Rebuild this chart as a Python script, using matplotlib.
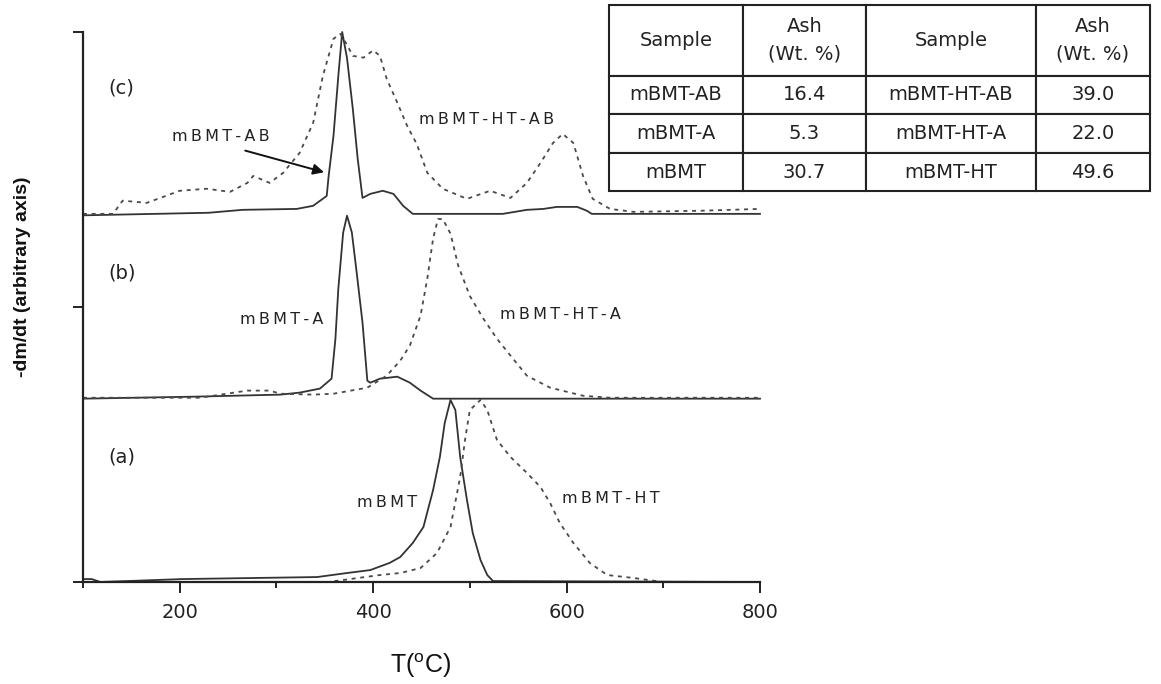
import matplotlib.pyplot as plt
import numpy as np

# --- data (T in deg C, relative height per trace) ---
# (c) acid + base treated
t_c_ab = [100, 230, 265, 321, 338, 352, 354, 359, 364, 368, 373, 379, 384, 389, 397, 410,
          421, 431, 441, 534, 559, 576, 590, 611, 621, 626, 800]
h_c_ab = [0, 0.014, 0.03, 0.035, 0.052, 0.106, 0.215, 0.434, 0.76, 1.0, 0.857, 0.58, 0.31,
          0.095, 0.117, 0.134, 0.117, 0.052, 0.008, 0.008, 0.03, 0.035, 0.046, 0.046, 0.025,
          0.008, 0.008]
t_c_htab = [100, 131, 141, 166, 200, 228, 252, 270, 276, 293, 307, 324, 338, 348, 359, 366,
            373, 379, 390, 400, 407, 414, 425, 435, 445, 456, 472, 497, 521, 542, 559, 573,
            586, 596, 607, 617, 627, 645, 669, 738, 800]
h_c_htab = [0.008, 0.008, 0.08, 0.068, 0.134, 0.145, 0.128, 0.177, 0.215, 0.177, 0.232, 0.341,
            0.505, 0.76, 0.963, 0.99, 0.93, 0.87, 0.86, 0.9, 0.87, 0.745, 0.614, 0.49, 0.39,
            0.232, 0.145, 0.09, 0.134, 0.095, 0.177, 0.286, 0.395, 0.444, 0.395, 0.215, 0.09,
            0.035, 0.019, 0.025, 0.035]

# (b) acid treated
t_b_a = [100, 216, 304, 324, 345, 357, 361, 364, 369, 373, 378, 383, 389, 394, 397, 407, 425,
         438, 449, 462, 800]
h_b_a = [0, 0.011, 0.022, 0.033, 0.055, 0.109, 0.327, 0.6, 0.906, 0.998, 0.906, 0.687, 0.415,
         0.098, 0.087, 0.109, 0.12, 0.087, 0.044, 0, 0]
t_b_hta = [100, 221, 270, 293, 304, 338, 359, 394, 414, 428, 438, 449, 456, 462, 467, 472, 480,
           488, 500, 514, 528, 542, 559, 583, 617, 645, 800]
h_b_hta = [0.005, 0.005, 0.044, 0.044, 0.027, 0.022, 0.027, 0.06, 0.125, 0.207, 0.29, 0.453,
           0.655, 0.873, 0.98, 0.98, 0.9, 0.725, 0.56, 0.436, 0.327, 0.235, 0.125, 0.06, 0.016,
           0.005, 0.005]

# (a) untreated
t_a = [100, 109, 118, 203, 342, 373, 397, 417, 428, 441, 452, 462, 469, 474, 480, 485, 490,
       497, 503, 511, 518, 524, 800]
h_a = [0.016, 0.016, 0, 0.016, 0.027, 0.049, 0.065, 0.104, 0.136, 0.213, 0.3, 0.502, 0.682,
       0.867, 0.993, 0.938, 0.682, 0.447, 0.267, 0.12, 0.038, 0.005, 0]
t_a_ht = [360, 369, 407, 428, 449, 466, 480, 490, 495, 500, 511, 518, 528, 542, 559, 573, 583,
          593, 607, 624, 642, 669, 700]
h_a_ht = [0.005, 0.011, 0.038, 0.049, 0.076, 0.158, 0.3, 0.573, 0.775, 0.938, 0.993, 0.938,
          0.775, 0.682, 0.595, 0.518, 0.431, 0.322, 0.213, 0.104, 0.038, 0.022, 0]

offsets = [0, 1, 2]  # (a), (b), (c) stacked

# ash table
table_header = ["Sample", "Ash\n(Wt. %)", "Sample", "Ash\n(Wt. %)"]
samples_left = ["mBMT-AB", "mBMT-A", "mBMT"]
ash_left = ["16.4", "5.3", "30.7"]
samples_right = ["mBMT-HT-AB", "mBMT-HT-A", "mBMT-HT"]
ash_right = ["39.0", "22.0", "49.6"]

solid_col = "#333333"
dash_col = "#4a4a4a"
dash_style = (0, (2.2, 2.6))


def spaced(s):
    return "\u2009".join(s)


fig = plt.figure(figsize=(11.61, 6.84), dpi=100)
ax = fig.add_axes([83 / 1161, 1 - 582 / 684, 677 / 1161, 550 / 684])

ax.plot(t_a, np.array(h_a) + offsets[0], color=solid_col, lw=1.3, clip_on=False)
ax.plot(t_a_ht, np.array(h_a_ht) + offsets[0], color=dash_col, lw=1.3, ls=dash_style, clip_on=False)
ax.plot(t_b_a, np.array(h_b_a) + offsets[1], color=solid_col, lw=1.3, clip_on=False)
ax.plot(t_b_hta, np.array(h_b_hta) + offsets[1], color=dash_col, lw=1.3, ls=dash_style, clip_on=False)
ax.plot(t_c_ab, np.array(h_c_ab) + offsets[2], color=solid_col, lw=1.3, clip_on=False)
ax.plot(t_c_htab, np.array(h_c_htab) + offsets[2], color=dash_col, lw=1.3, ls=dash_style, clip_on=False)

ax.set_xlim(100, 800)
ax.set_ylim(0, 3)
ax.spines["top"].set_visible(False)
ax.spines["right"].set_visible(False)
for s in ["left", "bottom"]:
    ax.spines[s].set_linewidth(1.6)
    ax.spines[s].set_color("#222222")

ax.set_xticks([200, 400, 600, 800])
ax.set_xticks([100, 300, 500, 700], minor=True)
ax.set_yticks([0, 1.5, 3])
ax.set_yticklabels([])
ax.tick_params(axis="x", which="major", length=8, width=1.4, color="#222222", pad=7,
               labelsize=14, labelcolor="#222222")
ax.tick_params(axis="x", which="minor", length=4.5, width=1.4, color="#222222")
ax.tick_params(axis="y", which="major", length=7.5, width=1.4, color="#222222")
for lab in ax.get_xticklabels():
    lab.set_family("DejaVu Sans")

# panel letters
for txt, y in [("(c)", 2.695), ("(b)", 1.686), ("(a)", 0.682)]:
    ax.text(140, y, txt, fontsize=14, family="DejaVu Sans", color="#222222",
            ha="center", va="center")

lab_kw = dict(fontsize=11.5, family="DejaVu Sans", color="#222222", ha="center", va="center")
ax.text(242, 2.428, spaced("mBMT-AB"), **lab_kw)
ax.text(517, 2.52, spaced("mBMT-HT-AB"), **lab_kw)
ax.text(305, 1.43, spaced("mBMT-A"), **lab_kw)
ax.text(594, 1.457, spaced("mBMT-HT-A"), **lab_kw)
ax.text(414, 0.436, spaced("mBMT"), **lab_kw)
ax.text(646, 0.458, spaced("mBMT-HT"), **lab_kw)
ax.annotate("", xy=(352, 2.231), xytext=(265, 2.357),
            arrowprops=dict(arrowstyle="-|>", color="#111111", lw=1.4, mutation_scale=16))

fig.text(23 / 1161, 1 - 277 / 684, "-dm/dt (arbitrary axis)", rotation=90, fontsize=14,
         fontweight="bold", family="Liberation Sans", ha="center", va="center", color="#111111")
fig.text(421 / 1161, 1 - 666 / 684, r"T($^{\mathregular{o}}$C)", fontsize=18,
         family="Liberation Sans", ha="center", va="center", color="#111111")

# table in the upper right
tax = fig.add_axes([609 / 1161, 1 - 191 / 684, 541 / 1161, 186 / 684])
tax.axis("off")
rows = [table_header] + [[samples_left[i], ash_left[i], samples_right[i], ash_right[i]]
                         for i in range(3)]
col_w = [134, 123, 170, 114]
tbl = tax.table(cellText=rows, cellLoc="center", bbox=[0, 0, 1, 1],
                colWidths=[w / sum(col_w) for w in col_w])
tbl.auto_set_font_size(False)
tbl.set_fontsize(14)
row_h = [71, 38, 39, 38]
for (r, c), cell in tbl.get_celld().items():
    cell.set_height(row_h[r] / sum(row_h))
    cell.set_linewidth(1.5)
    cell.set_edgecolor("#222222")
    cell.get_text().set_family("DejaVu Sans")
    cell.get_text().set_color("#222222")
    if r == 0 and c in (1, 3):
        cell.get_text().set_linespacing(1.55)

fig.savefig("out.png", dpi=100)
